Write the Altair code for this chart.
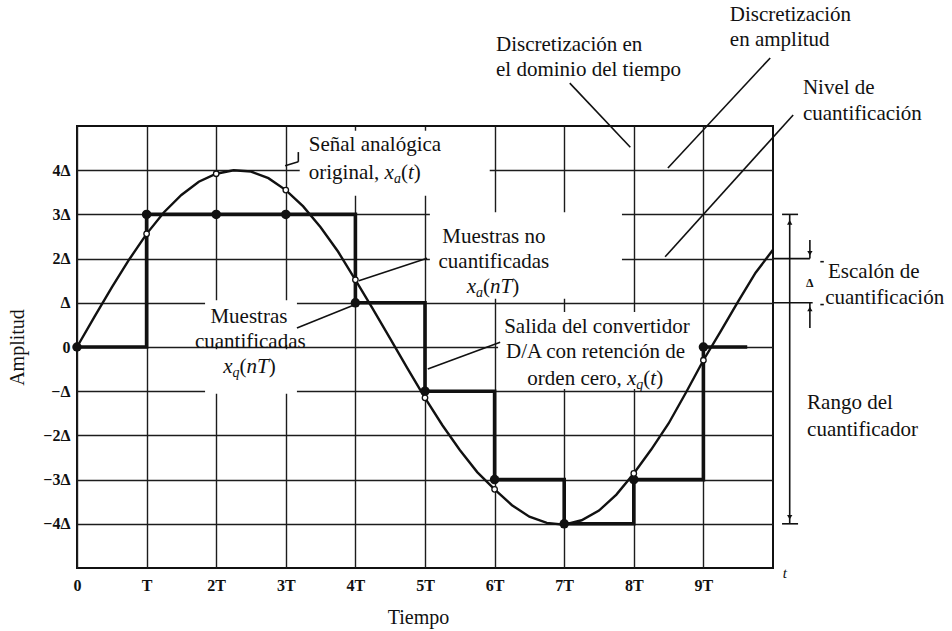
import json
import altair as alt
import pandas as pd

# ---------------- data ----------------
# analog signal x_a(t), time in units of T, amplitude in units of delta
T_CURVE = [0, 0.25, 0.5, 0.75, 1.0, 1.25, 1.5, 1.75, 2.0, 2.25, 2.5, 2.75, 3.0,
           3.25, 3.5, 3.75, 4.0, 4.25, 4.5, 4.75, 5.0, 5.25, 5.5, 5.75, 6.0,
           6.25, 6.5, 6.75, 7.0, 7.25, 7.5, 7.75, 8.0, 8.25, 8.5, 8.75, 9.0,
           9.25, 9.5, 9.75, 10.0]
XA_CURVE = [0, 0.68, 1.35, 1.98, 2.56, 3.05, 3.44, 3.74, 3.92, 4.00, 3.97, 3.82,
            3.55, 3.18, 2.71, 2.16, 1.52, 0.86, 0.19, -0.49, -1.15, -1.77, -2.33,
            -2.83, -3.22, -3.58, -3.84, -3.98, -4.02, -3.92, -3.70, -3.34, -2.86,
            -2.32, -1.73, -1.03, -0.30, 0.36, 1.03, 1.68, 2.20]

# quantized samples x_q(nT)
N_SAMPLES = [0, 1, 2, 3, 4, 5, 6, 7, 8, 9]
XQ_SAMPLES = [0, 3, 3, 3, 1, -1, -3, -4, -3, 0]
HOLD_END = 9.63  # last held value ends here

# unquantized samples x_a(nT) (where they differ from the quantized ones)
N_UNQ = [1, 2, 3, 4, 5, 6, 8, 9]
XA_UNQ = [2.56, 3.92, 3.55, 1.52, -1.15, -3.22, -2.86, -0.30]

X_TICK_LABELS = ["0", "T", "2T", "3T", "4T", "5T", "6T", "7T", "8T", "9T"]
Y_TICK_LABELS = ["−4Δ", "−3Δ", "−2Δ", "−Δ", "0", "Δ", "2Δ", "3Δ", "4Δ"]

# ---------------- layout ----------------
W, H = 696, 442
PX_PER_T = W / 10.0
PX_PER_V = H / 10.0
FONT = "Liberation Serif"
INK = "#111111"
FS = 21

XS = alt.Scale(domain=[0, 10], nice=False, zero=False)
YS = alt.Scale(domain=[-5, 5], nice=False, zero=False)

x_axis = alt.Axis(
    values=list(range(10)),
    labelExpr=json.dumps(X_TICK_LABELS) + "[datum.value]",
    grid=True, gridColor="#1c1c1c", gridWidth=1.4, gridOpacity=1,
    ticks=False, domain=False, labelFlush=False, labelOverlap=False,
    labelFont=FONT, labelFontWeight="bold", labelFontSize=16, labelColor=INK,
    labelPadding=9,
    title="Tiempo", titleFont=FONT, titleFontSize=20, titleFontWeight="normal",
    titleColor=INK, titleX=341, titleY=49, titleAlign="center", titleBaseline="middle",
)
y_axis = alt.Axis(
    values=list(range(-4, 5)),
    labelExpr=json.dumps(Y_TICK_LABELS, ensure_ascii=False) + "[datum.value + 4]",
    grid=True, gridColor="#1c1c1c", gridWidth=1.4, gridOpacity=1,
    ticks=False, domain=False, labelFlush=False, labelOverlap=False,
    labelFont=FONT, labelFontWeight="bold", labelFontSize=16, labelColor=INK,
    labelPadding=7,
    title="Amplitud", titleFont=FONT, titleFontSize=20, titleFontWeight="normal",
    titleColor=INK, titleX=-60, titleY=221, titleAngle=270, titleAlign="center",
    titleBaseline="middle",
)


def X(f):
    return alt.X(f"{f}:Q", scale=XS, axis=x_axis)


def Y(f):
    return alt.Y(f"{f}:Q", scale=YS, axis=y_axis)


# white label backgrounds (data units: t range, amplitude range)
boxes = pd.DataFrame([
    dict(t1=3.20, t2=5.93, v1=4.89, v2=3.42),
    dict(t1=5.07, t2=7.83, v1=3.05, v2=1.09),
    dict(t1=1.84, t2=3.16, v1=1.06, v2=0.05),
    dict(t1=1.84, t2=3.16, v1=-0.05, v2=-1.06),
    dict(t1=6.05, t2=8.95, v1=0.79, v2=-0.95),
])

curve = pd.DataFrame({"t": T_CURVE, "v": XA_CURVE})
stairs = pd.DataFrame({"t": N_SAMPLES + [HOLD_END], "v": XQ_SAMPLES + [XQ_SAMPLES[-1]]})
dots = pd.DataFrame({"t": N_SAMPLES, "v": XQ_SAMPLES})
unq = pd.DataFrame({"t": N_UNQ, "v": XA_UNQ})

# leader lines and dimension marks
leaders = pd.DataFrame([
    dict(t1=7.08, v1=5.97, t2=7.95, v2=4.52),    # time discretization
    dict(t1=9.96, v1=6.54, t2=8.49, v2=4.05),    # amplitude discretization
    dict(t1=10.29, v1=5.25, t2=8.45, v2=2.04),   # quantization level
    dict(t1=3.18, v1=4.41, t2=3.18, v2=4.19),    # analog signal
    dict(t1=3.18, v1=4.19, t2=2.99, v2=4.10),
    dict(t1=5.03, v1=2.01, t2=4.05, v2=1.50),    # unquantized samples
    dict(t1=3.16, v1=0.43, t2=3.98, v2=0.95),    # quantized samples
    dict(t1=6.08, v1=0.11, t2=5.04, v2=-0.50),   # D/A output
    dict(t1=10.24, v1=3.0, t2=10.24, v2=-4.0),   # quantizer range
    dict(t1=10.13, v1=3.0, t2=10.36, v2=3.0),
    dict(t1=10.13, v1=-4.0, t2=10.36, v2=-4.0),
    dict(t1=10.0, v1=2.0, t2=10.53, v2=2.0),     # quantization step
    dict(t1=10.53, v1=2.0, t2=10.53, v2=2.42),
    dict(t1=10.0, v1=1.0, t2=10.57, v2=1.0),
    dict(t1=10.53, v1=1.0, t2=10.53, v2=0.43),
    dict(t1=10.68, v1=1.93, t2=10.73, v2=1.93),
    dict(t1=10.68, v1=0.96, t2=10.73, v2=0.96),
])
heads = pd.DataFrame([
    dict(t=10.53, v=2.12, shape="triangle-down"),
    dict(t=10.53, v=0.86, shape="triangle-up"),
    dict(t=10.24, v=2.82, shape="triangle-up"),
    dict(t=10.24, v=-3.85, shape="triangle-down"),
])

# ---------------- text ----------------
left_text = pd.DataFrame([
    dict(t=6.02, v=6.83, text="Discretización en"),
    dict(t=6.02, v=6.27, text="el dominio del tiempo"),
    dict(t=9.38, v=7.51, text="Discretización"),
    dict(t=9.38, v=6.95, text="en amplitud"),
    dict(t=10.43, v=5.86, text="Nivel de"),
    dict(t=10.43, v=5.27, text="cuantificación"),
    dict(t=10.79, v=1.70, text="Escalón de"),
    dict(t=10.75, v=1.11, text="cuantificación"),
    dict(t=10.49, v=-1.27, text="Rango del"),
    dict(t=10.49, v=-1.88, text="cuantificador"),
    dict(t=3.33, v=4.57, text="Señal analógica"),
])
center_text = pd.DataFrame([
    dict(t=5.99, v=2.49, text="Muestras no"),
    dict(t=5.99, v=1.92, text="cuantificadas"),
    dict(t=2.47, v=0.68, text="Muestras"),
    dict(t=2.49, v=0.11, text="cuantificadas"),
    dict(t=7.47, v=0.45, text="Salida del convertidor"),
    dict(t=7.45, v=-0.11, text="D/A con retención de"),
])

# advance widths (em) of the serif face, used to set formula pieces side by side
ROMAN = {"o": .5, "r": .333, "i": .278, "g": .5, "n": .5, "a": .444, "l": .278,
         ",": .25, " ": .25, "d": .5, "e": .444, "c": .444, "(": .333, ")": .333}
ITALIC = {"x": .444, "a": .5, "q": .5, "t": .278, "n": .5, "T": .556}


def formula(t0, v0, pieces):
    rows, px = [], 0.0
    for text, italic, sub in pieces:
        size = 14 if sub else FS
        rows.append(dict(t=t0 + px / PX_PER_T,
                         v=v0 - (6.0 / PX_PER_V if sub else 0.0),
                         text=text, size=size, italic=italic))
        table = ITALIC if italic else ROMAN
        px += sum(table[ch] for ch in text) * size
    return rows


pieces = []
pieces += formula(3.33, 3.94, [("original, ", False, False), ("x", True, False), ("a", True, True),
                                ("(", False, False), ("t", True, False), (")", False, False)])
pieces += formula(5.60, 1.36, [("x", True, False), ("a", True, True), ("(", False, False),
                                ("nT", True, False), (")", False, False)])
pieces += formula(2.10, -0.45, [("x", True, False), ("q", True, True), ("(", False, False),
                                 ("nT", True, False), (")", False, False)])
pieces += formula(6.47, -0.72, [("orden cero, ", False, False), ("x", True, False), ("q", True, True),
                                 ("(", False, False), ("t", True, False), (")", False, False)])
pieces.append(dict(t=10.14, v=-5.11, text="t", size=15, italic=True))
pieces = pd.DataFrame(pieces)

# ---------------- layers ----------------
box_layer = alt.Chart(boxes).mark_rect(color="white").encode(
    x=X("t1"), x2="t2", y=Y("v1"), y2="v2")

curve_layer = alt.Chart(curve).mark_line(color=INK, strokeWidth=2.4).encode(
    x=X("t"), y=Y("v"))

stair_layer = alt.Chart(stairs).mark_line(
    color=INK, strokeWidth=3.6, interpolate="step-after").encode(x=X("t"), y=Y("v"))

dot_layer = alt.Chart(dots).mark_circle(size=90, color=INK, opacity=1).encode(
    x=X("t"), y=Y("v"))

unq_layer = alt.Chart(unq).mark_point(
    shape="circle", filled=True, fill="white", stroke=INK, strokeWidth=1.3,
    size=30, opacity=1).encode(x=X("t"), y=Y("v"))

leader_layer = alt.Chart(leaders).mark_rule(color=INK, strokeWidth=1.6).encode(
    x=X("t1"), x2="t2", y=Y("v1"), y2="v2")

head_layer = alt.Chart(heads).mark_point(filled=True, color=INK, size=28, opacity=1).encode(
    x=X("t"), y=Y("v"), shape=alt.Shape("shape:N", scale=None))

left_layer = alt.Chart(left_text).mark_text(
    font=FONT, fontSize=FS, align="left", baseline="middle", color=INK).encode(
    x=X("t"), y=Y("v"), text="text:N")

center_layer = alt.Chart(center_text).mark_text(
    font=FONT, fontSize=FS, align="center", baseline="middle", color=INK).encode(
    x=X("t"), y=Y("v"), text="text:N")

roman_pieces = alt.Chart(pieces).transform_filter("!datum.italic").mark_text(
    font=FONT, align="left", baseline="middle", color=INK).encode(
    x=X("t"), y=Y("v"), text="text:N", size=alt.Size("size:Q", scale=None))

italic_pieces = alt.Chart(pieces).transform_filter("datum.italic").mark_text(
    font=FONT, fontStyle="italic", align="left", baseline="middle", color=INK).encode(
    x=X("t"), y=Y("v"), text="text:N", size=alt.Size("size:Q", scale=None))

step_label = alt.Chart(pd.DataFrame([dict(t=10.53, v=1.45, text="Δ")])).mark_text(
    font=FONT, fontSize=12, fontWeight="bold", align="center", baseline="middle",
    color=INK).encode(x=X("t"), y=Y("v"), text="text:N")

chart = alt.layer(
    box_layer, curve_layer, stair_layer, dot_layer, unq_layer, leader_layer,
    head_layer, left_layer, center_layer, roman_pieces, italic_pieces, step_label,
).properties(
    width=W, height=H,
    autosize=alt.AutoSizeParams(type="none"),
    padding={"left": 77, "top": 126, "right": 179, "bottom": 63},
    background="white",
).configure_view(stroke=INK, strokeWidth=2)

chart.save("out.html", embed_options={"renderer": "svg", "actions": False})
